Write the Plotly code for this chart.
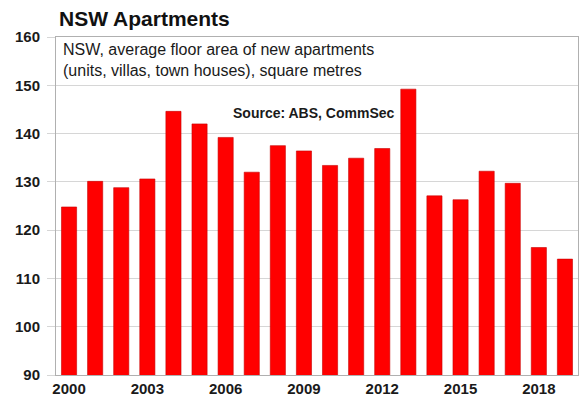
import plotly.graph_objects as go

years = list(range(2000, 2020))
floor_area = [124.8, 130.1, 128.8, 130.6, 144.6, 142.0, 139.2, 132.0, 137.5, 136.4,
              133.4, 134.9, 136.9, 149.2, 127.1, 126.3, 132.2, 129.7, 116.4, 114.0]
x_ticks = [2000, 2003, 2006, 2009, 2012, 2015, 2018]
y_ticks = [90, 100, 110, 120, 130, 140, 150, 160]

FONT = "Liberation Sans, Arial, sans-serif"

W, H = 585, 406
pl, pr, pt, pb = 56, 7, 37, 31
pw, ph = W - pl - pr, H - pt - pb


def px(x):
    return (x - pl) / pw


def py(y):
    return (H - pb - y) / ph


fig = go.Figure()
fig.add_trace(go.Bar(
    x=years, y=floor_area,
    marker=dict(color="#ff0000", line=dict(color="#c80000", width=0.6)),
    width=0.58,
))

fig.update_layout(
    width=W, height=H,
    margin=dict(l=pl, r=pr, t=pt, b=pb),
    paper_bgcolor="white", plot_bgcolor="white",
    showlegend=False,
    font=dict(family=FONT, color="#1a1a1a"),
    xaxis=dict(
        range=[1999.5, 2019.5],
        tickmode="array", tickvals=x_ticks, ticktext=[str(v) for v in x_ticks],
        tickfont=dict(size=15, family=FONT, color="#1a1a1a", weight="bold"),
        showgrid=False, ticks="", showline=True, linecolor="#b0b0b0", linewidth=1,
        mirror=True, zeroline=False, fixedrange=True,
    ),
    yaxis=dict(
        range=[90, 160],
        tickmode="array", tickvals=y_ticks, ticktext=[str(v) for v in y_ticks],
        tickfont=dict(size=15, family=FONT, color="#1a1a1a", weight="bold"),
        showgrid=True, gridcolor="#d6d6d6", gridwidth=1,
        ticks="outside", ticklen=8, tickcolor="#d6d6d6",
        ticklabelstandoff=4,
        showline=True, linecolor="#b0b0b0", linewidth=1, mirror=True,
        zeroline=False, fixedrange=True,
    ),
)

fig.add_annotation(text="<b>NSW Apartments</b>", x=px(57), y=py(18), xref="paper", yref="paper",
                   xanchor="left", yanchor="middle", showarrow=False,
                   font=dict(size=21, family=FONT, color="#111111"))
fig.add_annotation(text="NSW, average floor area of new apartments<br>(units, villas, town houses), square metres",
                   x=px(61), y=py(60), xref="paper", yref="paper",
                   xanchor="left", yanchor="middle", align="left", showarrow=False,
                   font=dict(size=16, family=FONT, color="#1a1a1a"))
fig.add_annotation(text="<b>Source: ABS, CommSec</b>", x=px(314), y=py(113), xref="paper", yref="paper",
                   xanchor="center", yanchor="middle", showarrow=False,
                   font=dict(size=14, family=FONT, color="#1a1a1a"))

fig.write_html("out.html", config={"displayModeBar": False},
               post_script="document.body.style.margin='0';document.body.style.overflow='hidden';")
